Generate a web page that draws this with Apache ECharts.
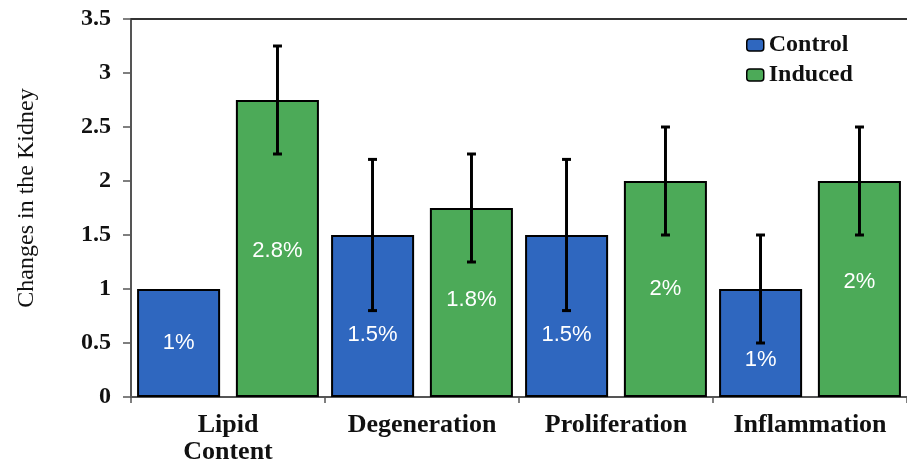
<!DOCTYPE html>
<html>
<head>
<meta charset="utf-8">
<script src="https://cdn.jsdelivr.net/npm/echarts@6/dist/echarts.min.js"></script>
<style>html,body{margin:0;padding:0;background:#fff}#c{width:907px;height:461px}</style>
</head>
<body>
<div id="c"></div>
<script>
const categories = ['Lipid\nContent', 'Degeneration', 'Proliferation', 'Inflammation'];
const controlValues = [1.0, 1.5, 1.5, 1.0];
const inducedValues = [2.75, 1.75, 2.0, 2.0];
const controlErrLow = [1.0, 0.8, 0.8, 0.5];
const controlErrHigh = [1.0, 2.2, 2.2, 1.5];
const inducedErrLow = [2.25, 1.25, 1.5, 1.5];
const inducedErrHigh = [3.25, 2.25, 2.5, 2.5];
const controlLabels = ['1%', '1.5%', '1.5%', '1%'];
const inducedLabels = ['2.8%', '1.8%', '2%', '2%'];
const yTicks = { min: 0, max: 3.5, interval: 0.5 };

const BLUE = '#2f67bf';
const GREEN = '#4caa58';
const controlLabelOffsets = [[0, 0], [0, 19], [0, 19], [0, 17]];
const inducedLabelOffsets = [[0, 2], [0, -3], [0, 0], [0, -7]];

const serif = '"Liberation Serif", "Times New Roman", serif';
const sans = '"Liberation Sans", Arial, sans-serif';

function barData(values, labels, offsets) {
  return values.map((v, i) => ({
    value: v,
    label: { formatter: labels[i], offset: offsets[i] }
  }));
}

function errData(low, high) {
  return low.map((l, i) => [i, l, high[i]]);
}

function errorRender(seriesIdx) {
  return function (params, api) {
    const i = api.value(0);
    const lo = api.coord([i, api.value(1)]);
    const hi = api.coord([i, api.value(2)]);
    if (api.value(1) === api.value(2)) return { type: 'group', children: [] };
    const bw = api.size([1, 0])[0];
    const barW = bw * 0.428;
    const gap = bw * 0.082;
    const off = (barW + gap) / 2 * (seriesIdx === 0 ? -1 : 1);
    const x = lo[0] + off;
    const cap = 4.5;
    const style = { stroke: '#000', lineWidth: 3 };
    return {
      type: 'group',
      children: [
        { type: 'line', shape: { x1: x, y1: lo[1], x2: x, y2: hi[1] }, style },
        { type: 'line', shape: { x1: x - cap, y1: lo[1], x2: x + cap, y2: lo[1] }, style },
        { type: 'line', shape: { x1: x - cap, y1: hi[1], x2: x + cap, y2: hi[1] }, style }
      ]
    };
  };
}

const chart = echarts.init(document.getElementById('c'), null, { renderer: 'canvas' });
chart.setOption({
  animation: false,
  backgroundColor: '#fff',
  grid: { left: 131, right: 0, top: 19, bottom: 64, containLabel: false, outerBoundsMode: 'none' },
  legend: {
    orient: 'vertical',
    left: 741,
    top: 28,
    itemWidth: 17,
    itemHeight: 12,
    itemGap: 6,
    data: ['Control', 'Induced'],
    textStyle: { fontFamily: serif, fontWeight: 'bold', fontSize: 24, color: '#111' },
    itemStyle: { borderColor: '#000', borderWidth: 1.5 }
  },
  xAxis: [{
    type: 'category',
    data: categories,
    axisLine: { show: true, lineStyle: { color: '#555', width: 2 } },
    axisTick: { show: true, length: 6, lineStyle: { color: '#555', width: 1.5 } },
    axisLabel: {
      fontFamily: serif, fontWeight: 'bold', fontSize: 26, color: '#111',
      lineHeight: 27, margin: 15, interval: 0
    }
  }, {
    type: 'category',
    position: 'top',
    data: categories,
    axisLine: { show: true, lineStyle: { color: '#333', width: 2 } },
    axisTick: { show: false },
    axisLabel: { show: false }
  }],
  yAxis: {
    type: 'value',
    min: yTicks.min,
    max: yTicks.max,
    interval: yTicks.interval,
    name: 'Changes in the Kidney',
    nameLocation: 'middle',
    nameGap: 92,
    nameRotate: 90,
    nameTextStyle: { fontFamily: serif, fontSize: 24, color: '#111', padding: [0, 0, 0, 20] },
    splitLine: { show: false },
    axisLine: { show: true, lineStyle: { color: '#555', width: 2 } },
    axisTick: { show: true, length: 8, lineStyle: { color: '#555', width: 1.5 } },
    axisLabel: { fontFamily: serif, fontWeight: 'bold', fontSize: 24, color: '#111', margin: 20 }
  },
  series: [
    {
      name: 'Control', type: 'bar',
      data: barData(controlValues, controlLabels, controlLabelOffsets),
      barWidth: '42.8%', barGap: '19%', barCategoryGap: '6%',
      itemStyle: { color: BLUE, borderColor: '#000', borderWidth: 2 },
      label: { show: true, position: 'inside', color: '#fff', fontFamily: sans, fontSize: 22 }
    },
    {
      name: 'Induced', type: 'bar',
      data: barData(inducedValues, inducedLabels, inducedLabelOffsets),
      barWidth: '42.8%', barGap: '19%',
      itemStyle: { color: GREEN, borderColor: '#000', borderWidth: 2 },
      label: { show: true, position: 'inside', color: '#fff', fontFamily: sans, fontSize: 22 }
    },
    {
      type: 'custom', name: 'ctrlErr', renderItem: errorRender(0),
      data: errData(controlErrLow, controlErrHigh), z: 10,
      encode: { x: 0, y: [1, 2] }, silent: true
    },
    {
      type: 'custom', name: 'indErr', renderItem: errorRender(1),
      data: errData(inducedErrLow, inducedErrHigh), z: 10,
      encode: { x: 0, y: [1, 2] }, silent: true
    }
  ]
});
</script>
</body>
</html>
